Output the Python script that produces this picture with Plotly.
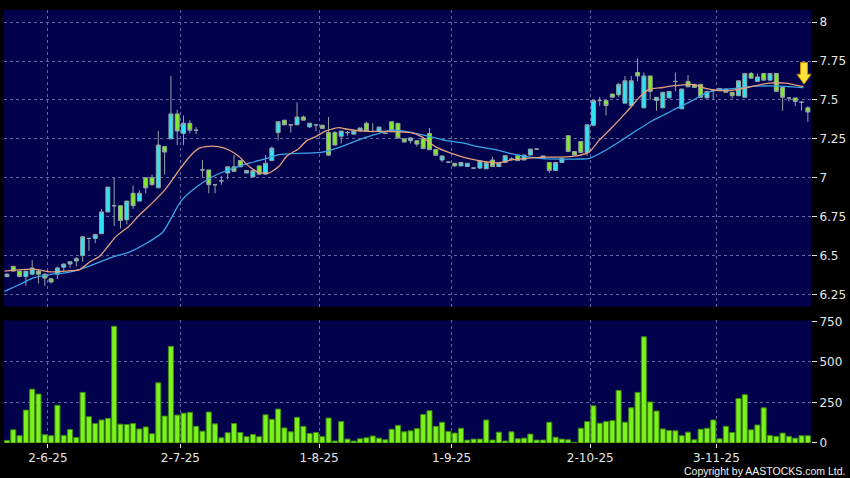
import plotly.graph_objects as go

# ---------------- data ----------------
opens = [6.365, 6.43, 6.40, 6.365, 6.38, 6.40, 6.38, 6.35, 6.38, 6.425,
         6.445, 6.465, 6.50, 6.61, 6.61, 6.64, 6.78, 6.82, 6.82, 6.73,
         6.90, 6.85, 7.00, 7.00, 6.935, 7.20, 7.25, 7.41, 7.285, 7.35,
         7.305, 7.05, 7.05, 6.955, 6.98, 7.03, 7.07, 7.11, 7.03, 7.005,
         7.076, 7.023, 7.11, 7.29, 7.37, 7.34, 7.34, 7.39, 7.327, 7.34,
         7.337, 7.29, 7.29, 7.267, 7.29, 7.28, 7.30, 7.35, 7.297, 7.30,
         7.285, 7.36, 7.35, 7.25, 7.238, 7.238, 7.25, 7.284, 7.182, 7.114,
         7.10, 7.093, 7.076, 7.072, 7.062, 7.062, 7.057, 7.114, 7.072, 7.098,
         7.12, 7.142, 7.114, 7.146, 7.184, 7.14, 7.098, 7.047, 7.098, 7.27,
         7.168, 7.233, 7.162, 7.337, 7.496, 7.496, 7.538, 7.533, 7.479, 7.464,
         7.676, 7.449, 7.654, 7.496, 7.449, 7.513, 7.619, 7.443, 7.619, 7.60,
         7.60, 7.513, 7.563, 7.56, 7.57, 7.549, 7.527, 7.517, 7.67, 7.619,
         7.67, 7.627, 7.67, 7.58, 7.513, 7.513, 7.485, 7.449]
highs = [6.385, 6.435, 6.40, 6.40, 6.47, 6.41, 6.385, 6.355, 6.43, 6.45,
         6.465, 6.49, 6.625, 6.61, 6.64, 6.80, 6.94, 7.00, 6.82, 6.85,
         6.95, 6.92, 7.00, 7.02, 7.30, 7.20, 7.655, 7.436, 7.40, 7.37,
         7.325, 7.114, 7.05, 6.96, 7.01, 7.07, 7.146, 7.11, 7.05, 7.05,
         7.08, 7.146, 7.20, 7.36, 7.37, 7.34, 7.485, 7.40, 7.35, 7.34,
         7.34, 7.39, 7.30, 7.30, 7.30, 7.30, 7.32, 7.36, 7.35, 7.33,
         7.29, 7.36, 7.35, 7.25, 7.26, 7.24, 7.25, 7.32, 7.182, 7.14,
         7.105, 7.093, 7.10, 7.093, 7.062, 7.108, 7.098, 7.135, 7.093, 7.142,
         7.13, 7.15, 7.146, 7.184, 7.186, 7.14, 7.098, 7.098, 7.125, 7.27,
         7.168, 7.233, 7.34, 7.496, 7.52, 7.496, 7.538, 7.61, 7.654, 7.654,
         7.767, 7.676, 7.654, 7.517, 7.549, 7.555, 7.676, 7.57, 7.66, 7.60,
         7.60, 7.555, 7.57, 7.574, 7.57, 7.549, 7.623, 7.67, 7.68, 7.67,
         7.67, 7.67, 7.67, 7.58, 7.513, 7.513, 7.49, 7.46]
lows = [6.36, 6.395, 6.36, 6.305, 6.375, 6.32, 6.305, 6.32, 6.35, 6.40,
        6.42, 6.43, 6.46, 6.53, 6.58, 6.64, 6.78, 6.69, 6.675, 6.70,
        6.80, 6.85, 6.90, 6.95, 6.935, 7.02, 7.25, 7.21, 7.21, 7.285,
        7.28, 7.00, 6.90, 6.90, 6.955, 6.99, 7.04, 7.07, 7.03, 7.005,
        7.02, 7.02, 7.11, 7.24, 7.34, 7.29, 7.34, 7.37, 7.32, 7.30,
        7.316, 7.14, 7.21, 7.22, 7.27, 7.28, 7.30, 7.30, 7.29, 7.30,
        7.28, 7.30, 7.255, 7.225, 7.22, 7.20, 7.187, 7.18, 7.144, 7.10,
        7.095, 7.07, 7.076, 7.072, 7.055, 7.055, 7.057, 7.072, 7.072, 7.098,
        7.11, 7.11, 7.114, 7.146, 7.18, 7.125, 7.03, 7.047, 7.098, 7.168,
        7.146, 7.162, 7.14, 7.33, 7.46, 7.40, 7.517, 7.52, 7.479, 7.464,
        7.62, 7.449, 7.50, 7.43, 7.449, 7.513, 7.555, 7.443, 7.584, 7.58,
        7.517, 7.513, 7.50, 7.56, 7.549, 7.51, 7.527, 7.517, 7.64, 7.619,
        7.627, 7.627, 7.555, 7.43, 7.49, 7.46, 7.43, 7.36]
closes = [6.38, 6.40, 6.365, 6.40, 6.42, 6.38, 6.355, 6.33, 6.42, 6.445,
          6.46, 6.48, 6.62, 6.61, 6.635, 6.78, 6.94, 6.82, 6.725, 6.85,
          6.82, 6.90, 6.935, 6.955, 7.21, 7.165, 7.41, 7.30, 7.35, 7.305,
          7.305, 7.05, 6.955, 6.955, 6.98, 7.07, 7.04, 7.07, 7.047, 7.047,
          7.023, 7.093, 7.19, 7.36, 7.34, 7.34, 7.39, 7.37, 7.35, 7.34,
          7.316, 7.145, 7.21, 7.30, 7.29, 7.30, 7.32, 7.30, 7.297, 7.325,
          7.285, 7.30, 7.255, 7.23, 7.256, 7.216, 7.187, 7.18, 7.144, 7.14,
          7.10, 7.076, 7.098, 7.093, 7.062, 7.108, 7.098, 7.072, 7.093, 7.142,
          7.12, 7.11, 7.146, 7.184, 7.184, 7.125, 7.047, 7.098, 7.125, 7.168,
          7.146, 7.162, 7.34, 7.496, 7.496, 7.464, 7.517, 7.60, 7.623, 7.623,
          7.654, 7.654, 7.555, 7.517, 7.549, 7.555, 7.619, 7.57, 7.584, 7.58,
          7.517, 7.555, 7.563, 7.574, 7.549, 7.527, 7.623, 7.67, 7.64, 7.648,
          7.627, 7.67, 7.555, 7.517, 7.513, 7.49, 7.485, 7.422]
volumes = [16, 81, 45, 203, 332, 302, 51, 45, 233, 47,
           83, 34, 312, 162, 120, 142, 152, 720, 116, 114,
           120, 87, 99, 57, 371, 166, 596, 172, 184, 189,
           103, 73, 191, 118, 32, 63, 120, 65, 39, 53,
           39, 174, 146, 209, 93, 69, 158, 103, 59, 65,
           39, 154, 12, 132, 24, 12, 26, 32, 43, 30,
           20, 85, 109, 69, 75, 89, 176, 199, 103, 128,
           71, 61, 91, 18, 24, 24, 142, 18, 67, 12,
           69, 26, 30, 55, 18, 18, 128, 36, 24, 20,
           4, 91, 132, 229, 122, 132, 138, 324, 128, 217,
           312, 655, 253, 197, 87, 77, 75, 45, 67, 20,
           85, 91, 142, 26, 103, 65, 274, 298, 81, 111,
           217, 47, 41, 61, 41, 30, 45, 45]

# moving-average lines at the given bar positions
ma_short_x = [-0.4, 4.2, 6.8, 9.4, 11.5, 13.1, 14.7, 15.7, 17.3, 19.4,
              21.0, 23.1, 25.0, 27.5, 29.2, 30.5, 31.5, 33.5, 35.2, 36.8,
              38.4, 40.0, 41.5, 43.1, 44.4, 46.2, 47.6, 48.9, 50.5, 52.6,
              54.2, 56.8, 60.0, 64.1, 65.8, 67.9, 70.5, 73.1, 75.8, 78.0,
              80.0, 82.4, 85.0, 87.6, 90.3, 92.4, 93.9, 95.5, 98.2, 100.3,
              101.8, 104.0, 105.5, 108.7, 110.8, 112.9, 115.5, 118.2, 120.8, 123.4,
              126.3]
ma_short_y = [6.400, 6.412, 6.395, 6.400, 6.410, 6.458, 6.496, 6.543, 6.623, 6.690,
              6.760, 6.840, 6.920, 7.060, 7.146, 7.190, 7.200, 7.200, 7.178, 7.136,
              7.072, 7.034, 7.030, 7.072, 7.140, 7.185, 7.240, 7.263, 7.300, 7.322,
              7.310, 7.300, 7.297, 7.290, 7.263, 7.200, 7.157, 7.125, 7.104, 7.095,
              7.115, 7.125, 7.132, 7.132, 7.140, 7.168, 7.240, 7.305, 7.420, 7.517,
              7.568, 7.580, 7.590, 7.600, 7.574, 7.560, 7.565, 7.587, 7.608, 7.608,
              7.585]
ma_long_x = [-0.4, 2.0, 4.2, 6.8, 9.4, 11.5, 14.7, 16.7, 19.4, 21.9,
             24.7, 27.6, 30.2, 32.9, 35.5, 38.1, 40.8, 43.2, 46.2, 48.7,
             50.5, 53.7, 56.3, 58.9, 61.0, 64.2, 66.8, 69.5, 72.1, 74.7,
             77.5, 79.7, 82.4, 85.0, 87.6, 90.3, 92.4, 95.0, 97.1, 99.7,
             102.4, 104.0, 105.5, 108.7, 110.8, 112.9, 115.5, 118.2, 120.8, 123.4,
             126.3]
ma_long_y = [6.270, 6.314, 6.356, 6.377, 6.390, 6.410, 6.458, 6.490, 6.522, 6.574,
             6.650, 6.850, 6.945, 7.013, 7.055, 7.090, 7.120, 7.148, 7.157, 7.160,
             7.168, 7.210, 7.252, 7.284, 7.305, 7.290, 7.267, 7.240, 7.225, 7.200,
             7.180, 7.157, 7.136, 7.123, 7.120, 7.120, 7.125, 7.178, 7.231, 7.300,
             7.368, 7.400, 7.432, 7.496, 7.544, 7.565, 7.574, 7.587, 7.590, 7.587,
             7.580]

tick_index = [7, 28, 50, 71, 93, 113]
tick_labels = ["2-6-25", "2-7-25", "1-8-25", "1-9-25", "2-10-25", "3-11-25"]
price_ticks = [6.25, 6.5, 6.75, 7.0, 7.25, 7.5, 7.75, 8.0]
price_tick_text = ["6.25", "6.5", "6.75", "7", "7.25", "7.5", "7.75", "8"]
vol_ticks = [0, 250, 500, 750]

# ---------------- styling ----------------
BG = "#000000"
PLOT_BG = "#02024c"
GRID = "#6464a4"
GRID_DASH = "3px,3px"
TXT = "#e6e6e6"
CYAN = "#2ce4f4"
LIME = "#80ec24"
EDGE = "#94a4a4"
VOL = "#7cf21c"
VOL_EDGE = "#3f8a10"

bars = list(range(len(opens)))
grid_pos = [t - 0.5 for t in tick_index]
xr = [-0.47, 127.5]

fig = go.Figure()

fig.add_trace(go.Scatter(x=ma_long_x, y=ma_long_y, mode="lines",
                         line=dict(color="#3aa6e8", width=1.3, shape="spline", smoothing=0.6),
                         xaxis="x", yaxis="y", hoverinfo="skip", showlegend=False))
fig.add_trace(go.Scatter(x=ma_short_x, y=ma_short_y, mode="lines",
                         line=dict(color="#e8a07c", width=1.3, shape="spline", smoothing=0.6),
                         xaxis="x", yaxis="y", hoverinfo="skip", showlegend=False))

fig.add_trace(go.Candlestick(
    x=bars, open=opens, high=highs, low=lows, close=closes,
    increasing=dict(fillcolor=CYAN, line=dict(color=EDGE, width=1)),
    decreasing=dict(fillcolor=LIME, line=dict(color=EDGE, width=1)),
    whiskerwidth=0, xaxis="x", yaxis="y", showlegend=False))

fig.add_trace(go.Bar(x=bars, y=volumes,
                     marker=dict(color=VOL, line=dict(color=VOL_EDGE, width=1)),
                     xaxis="x2", yaxis="y2", showlegend=False))

axis_font = dict(family="DejaVu Sans", size=12, color=TXT)

fig.update_layout(
    width=850, height=478,
    paper_bgcolor=BG, plot_bgcolor=PLOT_BG,
    margin=dict(l=4, r=36, t=5, b=35),
    showlegend=False,
    boxgap=0.1, bargap=0.2,
    xaxis=dict(domain=[0, 1], anchor="y", range=xr, rangeslider=dict(visible=False),
               tickmode="array", tickvals=grid_pos, showticklabels=False, ticks="",
               showgrid=True, gridcolor=GRID, griddash=GRID_DASH, gridwidth=1,
               zeroline=False, showline=False),
    yaxis=dict(domain=[0.3151, 1], anchor="x", range=[6.172, 8.078], side="right",
               tickmode="array", tickvals=price_ticks, ticktext=price_tick_text,
               ticks="outside", ticklen=5, tickcolor=TXT, tickfont=axis_font,
               showgrid=True, gridcolor=GRID, griddash=GRID_DASH, gridwidth=1,
               zeroline=False, showline=False),
    xaxis2=dict(domain=[0, 1], anchor="y2", range=xr, matches="x",
                tickmode="array", tickvals=grid_pos, ticktext=tick_labels,
                ticks="outside", ticklen=4, tickcolor=TXT, tickfont=axis_font,
                showgrid=True, gridcolor=GRID, griddash=GRID_DASH, gridwidth=1,
                zeroline=False, showline=False),
    yaxis2=dict(domain=[0, 0.2831], anchor="x2", range=[0, 756], side="right",
                tickmode="array", tickvals=vol_ticks,
                ticks="outside", ticklen=5, tickcolor=TXT, tickfont=axis_font,
                showgrid=True, gridcolor=GRID, griddash=GRID_DASH, gridwidth=1,
                zeroline=False, showline=False),
)

# yellow "latest" arrow marker (decoration)
fig.add_shape(type="path", xref="paper", yref="paper",
              path="M 0.9870 0.879 L 0.9957 0.879 L 0.9957 0.8516 L 1.0 0.8516 "
                   "L 0.9914 0.8288 L 0.9827 0.8516 L 0.9870 0.8516 Z",
              fillcolor="#ffe23a", line=dict(color="#d08a00", width=1))

fig.add_annotation(text="Copyright by AASTOCKS.com Ltd.", xref="paper", yref="paper",
                   x=1.0445, y=-0.065, xanchor="right", yanchor="middle", showarrow=False,
                   font=dict(family="Liberation Sans", size=10.5, color="#f0f0f0"))

fig.write_html("out.html", config={"displayModeBar": False},
               post_script="document.body.style.margin='0';document.body.style.padding='0';"
                           "document.body.style.background='#000';")
